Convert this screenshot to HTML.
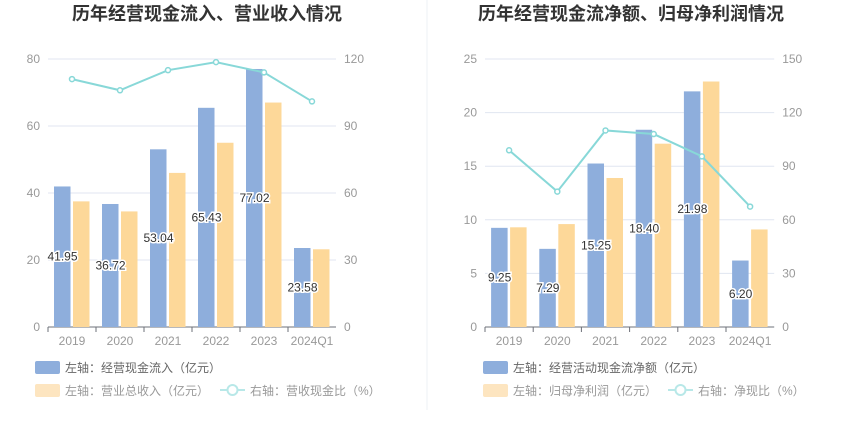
<!DOCTYPE html>
<html><head><meta charset="utf-8"><style>
body{margin:0;background:#fff;font-family:"Liberation Sans","Noto Sans CJK SC",sans-serif;}
svg text{font-family:"Liberation Sans","Noto Sans CJK SC",sans-serif;}
</style></head><body>
<svg id="s" width="850" height="437" xmlns="http://www.w3.org/2000/svg">
<line x1="427" y1="0" x2="427" y2="410" stroke="#eef0f4"/>
</svg>
<script>
const categories=["2019","2020","2021","2022","2023","2024Q1"];
const leftCash=[41.95,36.72,53.04,65.43,77.02,23.58];
const leftRevenue=[37.5,34.5,46,55,67,23.2];
const leftRatio=[111,106,115,118.6,114,101];
const leftTicks=[0,20,40,60,80];
const leftRTicks=[0,30,60,90,120];
const rightCash=[9.25,7.29,15.25,18.40,21.98,6.20];
const rightProfit=[9.3,9.6,13.9,17.1,22.9,9.1];
const rightRatio=[98.9,75.8,110,108,95.5,67.4];
const rightTicks=[0,5,10,15,20,25];
const rightRTicks=[0,30,60,90,120,150];

const svg=document.getElementById('s');
const NS='http://www.w3.org/2000/svg';
function mk(t,a,txt){const e=document.createElementNS(NS,t);for(const k in a)e.setAttribute(k,a[k]);if(txt!==undefined)e.textContent=txt;svg.appendChild(e);return e;}

function panel(o){
  const top=59,bot=327,x0=o.x0,band=o.band;
  const y=v=>bot-(v/o.lmax)*(bot-top);
  const yr=v=>bot-(v/o.rmax)*(bot-top);
  const cx=i=>x0+band*(i+0.5);
  let t=mk('text',{x:o.tx,y:20,'text-anchor':'middle','font-size':o.tf,'font-weight':'bold',fill:'#333'},o.title);
  
  
  o.lt.forEach((v,i)=>{
    let g=mk('line',{x1:x0,x2:x0+band*6,y1:y(v),y2:y(v),stroke:i==0?'#6e7079':'#e0e6f1'});
    
    
    let a=mk('text',{x:x0-8,y:y(v)+4,'text-anchor':'end','font-size':12,fill:'#999'},v);
    
    
    let b=mk('text',{x:x0+band*6+8,y:y(v)+4,'font-size':12,fill:'#999'},o.rt[i]);
    
    
  });
  categories.forEach((c,i)=>{
    let tk=mk('line',{x1:x0+band*i,x2:x0+band*i,y1:bot,y2:bot+5,stroke:'#6e7079'});
    
    
    let l=mk('text',{x:cx(i),y:bot+18,'text-anchor':'middle','font-size':12,fill:'#999'},c);
    
    
    let b1=mk('rect',{x:cx(i)-18,y:y(o.a[i]),width:16.5,height:bot-y(o.a[i]),fill:'#8eaedc'});
    
    
    let b2=mk('rect',{x:cx(i)+1,y:y(o.b[i]),width:16.5,height:bot-y(o.b[i]),fill:'#fdd899'});
    
    
  });
  let pts=o.r.map((v,i)=>cx(i)+','+yr(v)).join(' ');
  let pl=mk('polyline',{points:pts,fill:'none',stroke:'#88d8d8','stroke-width':2});
  
  
  o.r.forEach((v,i)=>{
    let c=mk('circle',{cx:cx(i),cy:yr(v),r:2.5,fill:'#fff',stroke:'#88d8d8','stroke-width':1.5});
    
    
  });
  categories.forEach((c,i)=>{
    let v=o.a[i];
    let l=mk('text',{x:cx(i)-9.5,y:(y(v)+bot)/2+4,'text-anchor':'middle','font-size':12,fill:'#333',stroke:'#fff','stroke-width':3,'paint-order':'stroke'},v.toFixed(2));
    
    
  });
  const lx=o.lx;
  let r1=mk('rect',{x:lx,y:361,width:25,height:13,rx:2,fill:'#8eaedc'});
  
  
  let t1=mk('text',{x:lx+30,y:372,'font-size':12,fill:'#666'},o.l1);
  
  
  let r2=mk('rect',{x:lx,y:384,width:25,height:13,rx:2,fill:'#fde5c0'});
  
  
  let t2=mk('text',{x:lx+30,y:395,'font-size':12,fill:'#999'},o.l2);
  
  
  let ll=mk('line',{x1:o.l3x,x2:o.l3x+25,y1:390,y2:390,stroke:'#b8e8e8','stroke-width':2});
  
  
  let lc=mk('circle',{cx:o.l3x+12.5,cy:390,r:5,fill:'#fff',stroke:'#b8e8e8','stroke-width':2});
  
  
  let t3=mk('text',{x:o.l3x+30,y:395,'font-size':12,fill:'#999'},o.l3);
  
  
}
panel({p:'left',x0:48,band:48,lmax:80,rmax:120,lt:leftTicks,rt:leftRTicks,a:leftCash,b:leftRevenue,r:leftRatio,tf:18,
  title:'历年经营现金流入、营业收入情况',tx:207,lx:35,l1:'左轴：经营现金流入（亿元）',l2:'左轴：营业总收入（亿元）',l3x:220,l3:'右轴：营收现金比（%）'});
panel({p:'right',x0:485,band:48.2,lmax:25,rmax:150,lt:rightTicks,rt:rightRTicks,a:rightCash,b:rightProfit,r:rightRatio,tf:18,
  title:'历年经营现金流净额、归母净利润情况',tx:631,lx:483,l1:'左轴：经营活动现金流净额（亿元）',l2:'左轴：归母净利润（亿元）',l3x:668,l3:'右轴：净现比（%）'});
</script>
</body></html>
